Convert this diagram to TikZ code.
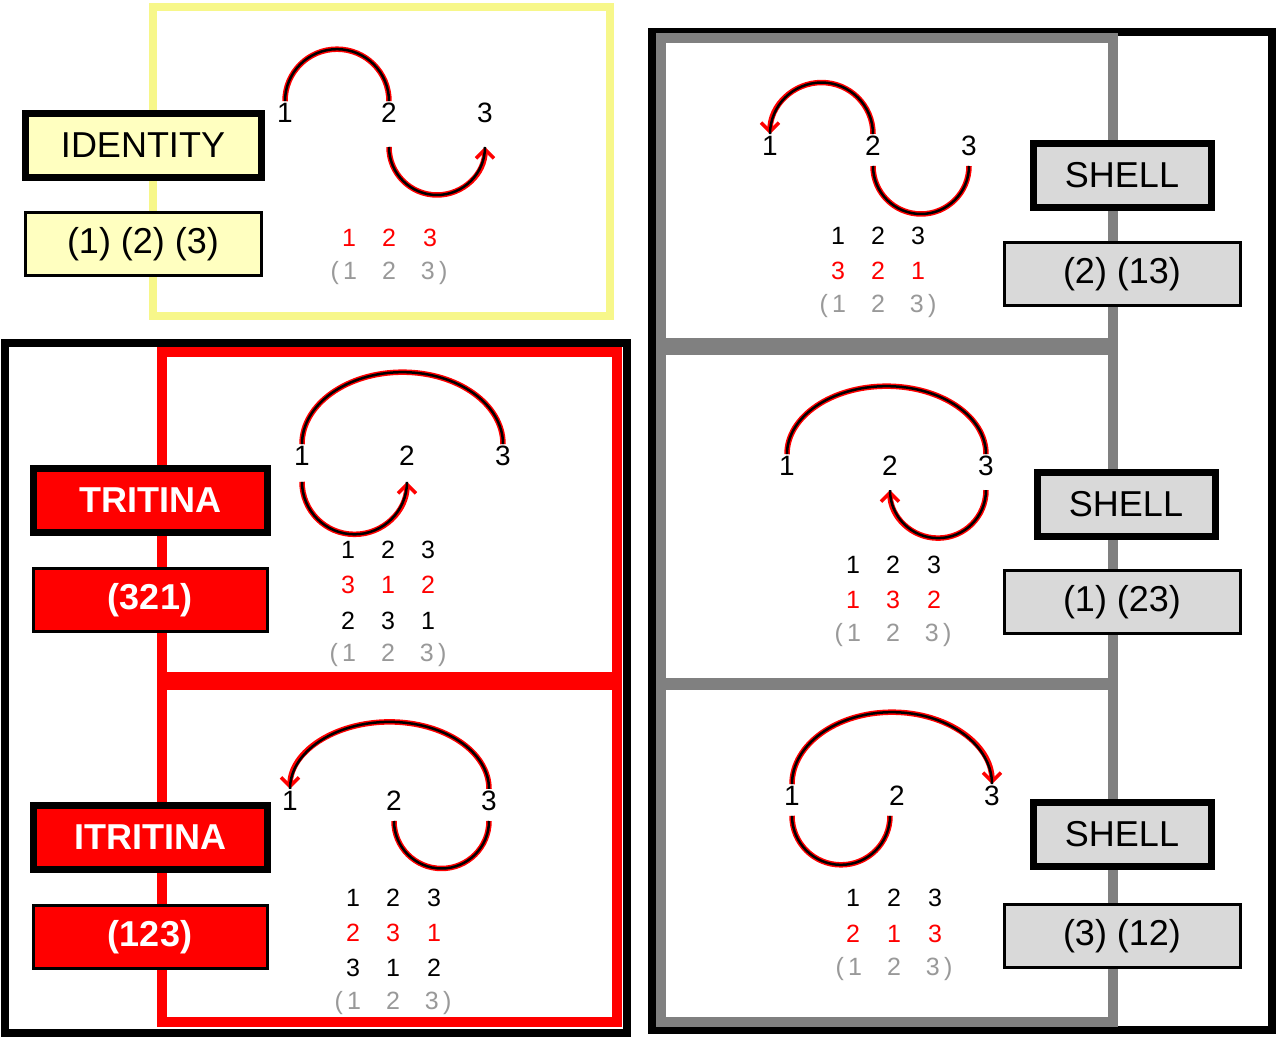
\documentclass[tikz,border=0pt]{standalone}
\usepackage{fontspec}
\setmainfont{Liberation Sans}
\usetikzlibrary{arrows.meta}
\definecolor{lemon}{HTML}{F7F78A}
\definecolor{cream}{HTML}{FFFFC0}
\definecolor{shellgray}{HTML}{D9D9D9}
\definecolor{framegray}{HTML}{808080}
\definecolor{tabgray}{HTML}{999999}
\tikzset{
  num/.style={font=\fontsize{28}{28}\selectfont, inner sep=2pt},
  tab/.style={font=\fontsize{25}{25}\selectfont, inner sep=0pt},
  namebox/.style={draw=black, line width=7pt, font=\fontsize{36}{36}\selectfont, inner sep=0pt},
  cyclebox/.style={draw=black, line width=3pt, font=\fontsize{36}{36}\selectfont, inner sep=0pt},
  arcline/.style={draw=red, line width=5.5pt, postaction={draw=black, line width=2.5pt, -}},
  tip/.style={-{Straight Barb[red, length=9pt, width=18pt, line width=3.5pt]}}
}
\begin{document}
\begin{tikzpicture}[x=1pt, y=-1pt]
\useasboundingbox (0,0) rectangle (1277,1045);
\fill[white] (0,0) rectangle (1277,1045);

% frames
\draw[lemon, line width=8pt] (153,7) rectangle (610,316);
\draw[black, line width=8pt] (5,343) rectangle (627,1033);
\draw[red, line width=10pt] (162,352) rectangle (617,677);
\draw[red, line width=10pt] (162,685) rectangle (617,1022);
\draw[black, line width=8pt] (652,32) rectangle (1272,1030);
\draw[framegray, line width=10pt] (661,38) rectangle (1113,343);
\draw[framegray, line width=10pt] (661,350) rectangle (1113,683);
\draw[framegray, line width=10pt] (661,685) rectangle (1113,1022);

% labels
\node[namebox, fill=cream, minimum width=236pt, minimum height=64pt] (idname) at (143,145) {IDENTITY};
\node[cyclebox, fill=cream, minimum width=236pt, minimum height=63pt] (idcyc) at (143,244) {(1) (2) (3)};
\node[namebox, fill=red, text=white, font=\fontsize{36}{36}\selectfont\bfseries, minimum width=234pt, minimum height=64pt] (triname) at (150,500) {TRITINA};
\node[cyclebox, fill=red, text=white, font=\fontsize{36}{36}\selectfont\bfseries, minimum width=234pt, minimum height=63pt] (tricyc) at (150,600) {(321)};
\node[namebox, fill=red, text=white, font=\fontsize{36}{36}\selectfont\bfseries, minimum width=234pt, minimum height=64pt] (itriname) at (150,837) {ITRITINA};
\node[cyclebox, fill=red, text=white, font=\fontsize{36}{36}\selectfont\bfseries, minimum width=234pt, minimum height=63pt] (itricyc) at (150,937) {(123)};
\node[namebox, fill=shellgray, minimum width=178pt, minimum height=64pt] (shaname) at (1122,175) {SHELL};
\node[cyclebox, fill=shellgray, minimum width=236pt, minimum height=63pt] (shacyc) at (1122,274) {(2) (13)};
\node[namebox, fill=shellgray, minimum width=178pt, minimum height=64pt] (shbname) at (1126,504) {SHELL};
\node[cyclebox, fill=shellgray, minimum width=236pt, minimum height=63pt] (shbcyc) at (1122,602) {(1) (23)};
\node[namebox, fill=shellgray, minimum width=178pt, minimum height=64pt] (shcname) at (1122,834) {SHELL};
\node[cyclebox, fill=shellgray, minimum width=236pt, minimum height=63pt] (shccyc) at (1122,936) {(3) (12)};

% identity
\node[num] (ia) at (285,113) {1};
\node[num] (ib) at (389,113) {2};
\node[num] (ic) at (485,113) {3};
\draw[arcline] (ia.north) arc[start angle=180, end angle=360, radius=52];
\draw[arcline, tip] ([yshift=-22pt]ib.south) arc[start angle=180, end angle=0, radius=48];
\foreach \x/\d in {349/1, 389/2, 430/3} \node[tab, red] at (\x,238) {\d};
\node[tab, tabgray] at (389,273) {(\,1\quad2\quad3\,)};

% tritina
\node[num] (ta) at (302,456) {1};
\node[num] (tb) at (407,456) {2};
\node[num] (tc) at (503,456) {3};
\draw[arcline] (ta.north) arc[start angle=180, end angle=360, x radius=100.5, y radius=72];
\draw[arcline, tip] ([yshift=-14pt]ta.south) arc[start angle=180, end angle=0, radius=52.5];
\foreach \x/\a/\b/\c in {348/1/3/2, 388/2/1/3, 428/3/2/1} {
  \node[tab] at (\x,550) {\a};
  \node[tab, red] at (\x,585) {\b};
  \node[tab] at (\x,621) {\c};
}
\node[tab, tabgray] at (388,655) {(\,1\quad2\quad3\,)};

% itritina
\node[num] (ua) at (290,801) {1};
\node[num] (ub) at (394,801) {2};
\node[num] (uc) at (489,801) {3};
\draw[arcline, tip] (uc.north) arc[start angle=0, end angle=-180, x radius=99.5, y radius=67];
\draw[arcline] ([yshift=-8pt]ub.south) arc[start angle=180, end angle=0, radius=47.5];
\foreach \x/\a/\b/\c in {353/1/2/3, 393/2/3/1, 434/3/1/2} {
  \node[tab] at (\x,898) {\a};
  \node[tab, red] at (\x,933) {\b};
  \node[tab] at (\x,968) {\c};
}
\node[tab, tabgray] at (393,1003) {(\,1\quad2\quad3\,)};

% shell (2)(13)
\node[num] (sa) at (770,146) {1};
\node[num] (sb) at (873,146) {2};
\node[num] (sc) at (969,146) {3};
\draw[arcline, tip] (sb.north) arc[start angle=0, end angle=-180, radius=51.5];
\draw[arcline] ([yshift=-8pt]sb.south) arc[start angle=180, end angle=0, radius=48];
\foreach \x/\a/\b in {838/1/3, 878/2/2, 918/3/1} {
  \node[tab] at (\x,236) {\a};
  \node[tab, red] at (\x,271) {\b};
}
\node[tab, tabgray] at (878,306) {(\,1\quad2\quad3\,)};

% shell (1)(23)
\node[num] (ra) at (787,466) {1};
\node[num] (rb) at (890,466) {2};
\node[num] (rc) at (986,466) {3};
\draw[arcline] (ra.north) arc[start angle=180, end angle=360, x radius=99.5, y radius=68];
\draw[arcline, tip] ([yshift=-12pt]rc.south) arc[start angle=0, end angle=180, radius=48];
\foreach \x/\a/\b in {853/1/1, 893/2/3, 934/3/2} {
  \node[tab] at (\x,565) {\a};
  \node[tab, red] at (\x,600) {\b};
}
\node[tab, tabgray] at (893,635) {(\,1\quad2\quad3\,)};

% shell (3)(12)
\node[num] (qa) at (792,796) {1};
\node[num] (qb) at (897,796) {2};
\node[num] (qc) at (992,796) {3};
\draw[arcline, tip] (qa.north) arc[start angle=180, end angle=360, x radius=100, y radius=72];
\draw[arcline] ([yshift=-8pt]qa.south) arc[start angle=180, end angle=0, radius=49];
\foreach \x/\a/\b in {853/1/2, 894/2/1, 935/3/3} {
  \node[tab] at (\x,898) {\a};
  \node[tab, red] at (\x,934) {\b};
}
\node[tab, tabgray] at (894,969) {(\,1\quad2\quad3\,)};
\end{tikzpicture}
\end{document}
